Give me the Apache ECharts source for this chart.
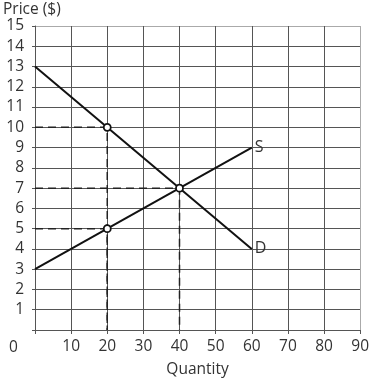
<!DOCTYPE html>
<html>
<head>
<meta charset="utf-8">
<script src="https://cdn.jsdelivr.net/npm/echarts@6/dist/echarts.min.js"></script>
<style>
html,body{margin:0;padding:0;background:#fff;}
#chart{width:372px;height:383px;}
</style>
</head>
<body>
<div id="chart"></div>
<script>
// Data
var xTicks = [0, 10, 20, 30, 40, 50, 60, 70, 80, 90];
var yTicks = [0,1,2,3,4,5,6,7,8,9,10,11,12,13,14,15];
var supplyQ = [0, 60];
var supplyP = [3, 9];
var demandQ = [0, 60];
var demandP = [13, 4];
var pointsQ = [20, 40, 20];
var pointsP = [10, 7, 5];
var supplyLabel = 'S';
var demandLabel = 'D';
var xTitle = 'Quantity';
var yTitle = 'Price ($)';

var FONT = 'Open Sans';
var TXT = '#333';
var FS = 15.5;

function pairs(a, b) { return a.map(function (v, i) { return [v, b[i]]; }); }

var dashSeries = pointsQ.map(function (q, i) {
  return {
    type: 'line',
    data: [[0, pointsP[i]], [q, pointsP[i]], [q, 0]],
    symbol: 'none',
    silent: true,
    z: 2,
    lineStyle: { color: '#222', width: 1.5, type: [8, 5] }
  };
});

function gridColors(n) {
  var arr = [];
  for (var i = 0; i < n; i++) arr.push(i === n - 1 ? '#aaa' : '#555');
  return arr;
}

var chart = echarts.init(document.getElementById('chart'), null, { renderer: 'canvas' });
chart.setOption({
  animation: false,
  backgroundColor: '#fff',
  grid: { left: 32, right: 11, top: 26, bottom: 50 },
  xAxis: {
    type: 'value', min: 0, max: 90, interval: 10,
    name: xTitle, nameLocation: 'middle', nameGap: 32,
    nameTextStyle: { fontFamily: FONT, fontSize: FS, color: TXT },
    axisLine: { show: true, lineStyle: { color: '#555', width: 1 } },
    axisTick: { show: true, length: 4, lineStyle: { color: '#555' } },
    axisLabel: { fontFamily: FONT, fontSize: FS, color: TXT, margin: 9,
      formatter: function (v) { return v === 0 ? '' : String(v); } },
    splitLine: { show: true, lineStyle: { color: gridColors(xTicks.length), width: 1 } }
  },
  yAxis: {
    type: 'value', min: 0, max: 15, interval: 1,
    name: yTitle, nameLocation: 'end', nameGap: 8,
    nameTextStyle: { fontFamily: FONT, fontSize: FS, color: TXT, align: 'left', padding: [0, 0, 0, -32] },
    axisLine: { show: true, lineStyle: { color: '#555', width: 1 } },
    axisTick: { show: true, length: 3, lineStyle: { color: '#555' } },
    axisLabel: { fontFamily: FONT, fontSize: FS, color: TXT, margin: 11,
      formatter: function (v) { return v === 0 ? '' : String(v); } },
    splitLine: { show: true, lineStyle: { color: gridColors(yTicks.length), width: 1 } }
  },
  graphic: [{
    type: 'text', left: 9, top: 340,
    style: { text: '0', fontFamily: FONT, fontSize: FS, fill: TXT }
  }],
  series: dashSeries.concat([
    {
      type: 'line', data: pairs(demandQ, demandP), symbol: 'none', z: 3,
      lineStyle: { color: '#111', width: 2 },
      endLabel: { show: true, formatter: demandLabel, fontFamily: FONT, fontSize: 16, color: TXT, distance: 3 }
    },
    {
      type: 'line', data: pairs(supplyQ, supplyP), symbol: 'none', z: 3,
      lineStyle: { color: '#111', width: 2 },
      endLabel: { show: true, formatter: supplyLabel, fontFamily: FONT, fontSize: 16, color: TXT, distance: 3 }
    },
    {
      type: 'scatter', data: pairs(pointsQ, pointsP), z: 5,
      symbol: 'circle', symbolSize: 7,
      itemStyle: { color: '#fff', borderColor: '#111', borderWidth: 1.8, opacity: 1 }
    }
  ])
});
</script>
</body>
</html>
